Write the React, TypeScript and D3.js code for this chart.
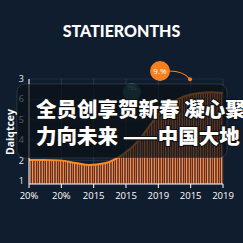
import React from "react";
import * as d3 from "d3";

const title = "STATIERONTHS";
const yAxisTitle = "Daiqtcey";
const yTickLabels = ["1", "2", "4", "5", "6", "3"];
const xTickLabels = ["20%", "20%", "2015", "2015", "2019", "2015", "2019"];
const seriesX = [0, 8, 16, 24, 31, 39, 45, 52, 57, 62, 67, 73, 80, 88, 94, 100];
const seriesY = [1.37, 1.37, 1.35, 1.2, 1.08, 1.18, 1.45, 2.0, 2.55, 3.3, 4.0, 4.6, 5.0, 5.2, 5.25, 5.2];
const overlayLines = ["全员创享贺新春 凝心聚", "力向未来 ——中国大地"];
const calloutLabel = "9.%";
const calloutPoint = { x: 83, y: 5.98 };
const badgeLabel = "75%";
const badgePoint = { x: 53, y: 5.2 };

export default function App() {
  const W = 243, H = 243;
  const left = 29, right = 223, top = 79, bottom = 184;
  const x = d3.scaleLinear().domain([0, 100]).range([left, right]);
  const y = d3.scaleLinear().domain([0, 6]).range([bottom, top]);
  const yTicks = d3.scalePoint<string>().domain(yTickLabels).range([181, 79]);
  const xTicks = d3.scalePoint<string>().domain(xTickLabels.map((d, i) => i + "")).range([left, right]);
  const pts = seriesX.map((d, i) => [d, seriesY[i]] as [number, number]);
  const area = d3.area<[number, number]>().x(d => x(d[0])).y0(bottom).y1(d => y(d[1])).curve(d3.curveMonotoneX);
  const line = d3.line<[number, number]>().x(d => x(d[0])).y(d => y(d[1])).curve(d3.curveMonotoneX);
  const cx = 160, cy = 71;
  const px = x(calloutPoint.x), py = y(calloutPoint.y);
  return (
    <svg width={W} height={H} style={{ position: "absolute", left: 0, top: 0 }}>
      <defs>
        <pattern id="stripes" width="7" height="10" patternUnits="userSpaceOnUse">
          <rect width="7" height="10" fill="#5b3123" />
          <rect x="0" width="1" height="10" fill="#e8854c" />
          <rect x="2" width="1" height="10" fill="#c96d3e" />
          <rect x="4" width="1.2" height="10" fill="#f0915a" />
          <rect x="6" width="0.6" height="10" fill="#a9583a" />
        </pattern>
      </defs>
      <rect width={W} height={H} fill="#0f1d2e" />
      <text x={121.5} y={36.5} textAnchor="middle" fill="#ffffff" fontFamily="Lato, 'Open Sans', sans-serif" fontWeight={900} fontSize={16}>{title}</text>
      {xTickLabels.map((_, i) => (
        <line key={"gx" + i} x1={xTicks(i + "")} x2={xTicks(i + "")} y1={top} y2={bottom} stroke="#ffffff" strokeOpacity={0.1} />
      ))}
      {yTickLabels.map(l => (
        <line key={"gy" + l} x1={left} x2={right} y1={yTicks(l)} y2={yTicks(l)} stroke="#ffffff" strokeOpacity={0.08} />
      ))}
      <path d={area(pts) || ""} fill="url(#stripes)" />
      <path d={line(pts) || ""} fill="none" stroke="#ff8a1f" strokeWidth={2} />
      <circle cx={x(badgePoint.x)} cy={y(badgePoint.y) - 1} r={9} fill="#1c5559" />
      <text x={x(badgePoint.x)} y={y(badgePoint.y) - 3} textAnchor="middle" fill="#8fb3b5" fontSize={5} fontFamily="Roboto, sans-serif">{badgeLabel}</text>
      <line x1={left} x2={left} y1={top} y2={bottom} stroke="#ffffff" strokeWidth={1} />
      <line x1={left} x2={right} y1={bottom} y2={bottom} stroke="#ffffff" strokeWidth={1.2} />
      {xTickLabels.map((l, i) => (
        <g key={"xt" + i}>
          <line x1={xTicks(i + "")} x2={xTicks(i + "")} y1={bottom} y2={bottom + 4} stroke="#ffffff" />
          <text x={xTicks(i + "")} y={199} textAnchor="middle" fill="#ffffff" fontSize={9.5} fontFamily="'Open Sans', sans-serif">{l}</text>
        </g>
      ))}
      {yTickLabels.map(l => (
        <text key={"yt" + l} x={24} y={(yTicks(l) || 0) + 3} textAnchor="end" fill="#e8ecf0" fontSize={9} fontFamily="'Open Sans', sans-serif">{l}</text>
      ))}
      <text transform={`translate(14,132) rotate(-90)`} textAnchor="middle" fill="#ffffff" fontWeight={700} fontSize={10.5} fontFamily="'Open Sans', sans-serif">{yAxisTitle}</text>
      <rect x={17} y={84} width={210} height={74} rx={8} fill="#0b1016" fillOpacity={0.68} stroke="#ffffff" strokeOpacity={0.12} />
      {overlayLines.map((l, i) => (
        <text key={"ol" + i} x={36} y={117 + i * 27} fill="#ffffff" fontSize={20.5} fontWeight={900} fontFamily="'Noto Sans CJK SC', sans-serif" stroke="#111" strokeWidth={2.2} paintOrder="stroke" style={{ whiteSpace: "pre" }}>{l}</text>
      ))}
      <path d={`M${cx + 9},${cy} Q${cx + 24},${cy} ${px},${py}`} fill="none" stroke="#f7801c" strokeWidth={1.2} />
      <circle cx={px} cy={py} r={2} fill="#f7801c" />
      <circle cx={cx} cy={cy} r={10} fill="#f7801c" />
      <text x={cx} y={cy + 3} textAnchor="middle" fill="#ffffff" fontSize={8} fontFamily="'Open Sans', sans-serif">{calloutLabel}</text>
    </svg>
  );
}
